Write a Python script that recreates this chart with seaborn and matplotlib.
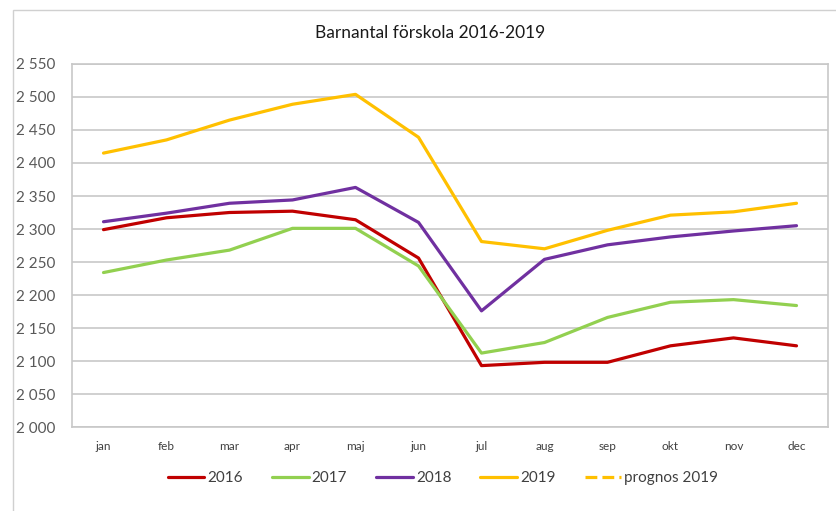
import pandas as pd
import numpy as np
import matplotlib
matplotlib.use("Agg")
import matplotlib.pyplot as plt
import seaborn as sns
from matplotlib.lines import Line2D
from matplotlib.patches import Rectangle
from matplotlib.ticker import FuncFormatter, MultipleLocator

# data
months = ['jan', 'feb', 'mar', 'apr', 'maj', 'jun', 'jul', 'aug', 'sep', 'okt', 'nov', 'dec']
v2016 = [2299, 2317, 2325, 2327, 2314, 2256, 2093, 2098, 2098, 2123, 2135, 2123]
v2017 = [2234, 2253, 2268, 2301, 2301, 2244, 2112, 2128, 2166, 2189, 2193, 2184]
v2018 = [2311, 2324, 2339, 2344, 2363, 2310, 2176, 2254, 2276, 2288, 2297, 2305]
v2019 = [2415, 2435, 2465, 2489, 2504, 2439, 2281, 2270, 2298, 2321, 2326, 2339]
years = ['2016', '2017', '2018', '2019']
colors = ['#C00000', '#92D050', '#7030A0', '#FFC000']

df = pd.DataFrame({
    'month': months * 4,
    'pos': list(range(12)) * 4,
    'value': v2016 + v2017 + v2018 + v2019,
    'year': [y for y in years for _ in months],
})

sns.set_style('white')
plt.rcParams['font.family'] = ['Lato', 'DejaVu Sans']

fig = plt.figure(figsize=(8.37, 5.11), dpi=100)
ax = fig.add_axes([72 / 837, 1 - 427 / 511, (828 - 72) / 837, (427 - 64) / 511])

sns.lineplot(data=df, x='pos', y='value', hue='year', palette=colors,
             linewidth=2.3, ax=ax, legend=False)

# outer chart frame
fig.patches.append(Rectangle((13 / 837, -0.1), 1.2, 1 - 10 / 511 + 0.1,
                             transform=fig.transFigure, fill=False,
                             edgecolor='#D0D0D0', linewidth=1.0))

ax.set_xlim(-0.5, 11.5)
ax.set_ylim(2000, 2550)
ax.yaxis.set_major_locator(MultipleLocator(50))
ax.yaxis.set_major_formatter(FuncFormatter(lambda v, p: f"{int(v):,}".replace(',', ' ')))
ax.set_xticks(range(12))
ax.set_xticklabels(months)
ax.grid(axis='y', color='#C8C8C8', linewidth=1.2)
ax.set_axisbelow(True)
for s in ax.spines.values():
    s.set_color('#C8C8C8')
    s.set_linewidth(1.2)
ax.tick_params(axis='y', length=0, labelsize=11, colors='#595959', pad=12)
ax.tick_params(axis='x', length=0, labelsize=8.5, colors='#404040', pad=10)
ax.set_xlabel('')
ax.set_ylabel('')

fig.text(430 / 837, 1 - 33 / 511, 'Barnantal förskola 2016-2019', ha='center', va='center',
         fontsize=12.5, color='#1A1A1A')

handles = [Line2D([], [], color=c, linewidth=2.3) for c in colors]
handles.append(Line2D([], [], color='#FFC000', linewidth=2.3, linestyle='--'))
labels = years + ['prognos 2019']
fig.legend(handles, labels, loc='center', bbox_to_anchor=(443 / 837, 1 - 478 / 511),
           ncol=5, frameon=False, fontsize=11, handlelength=2.4, handletextpad=0.2,
           columnspacing=1.9, labelcolor='#404040')

fig.savefig('out.png', dpi=100)
